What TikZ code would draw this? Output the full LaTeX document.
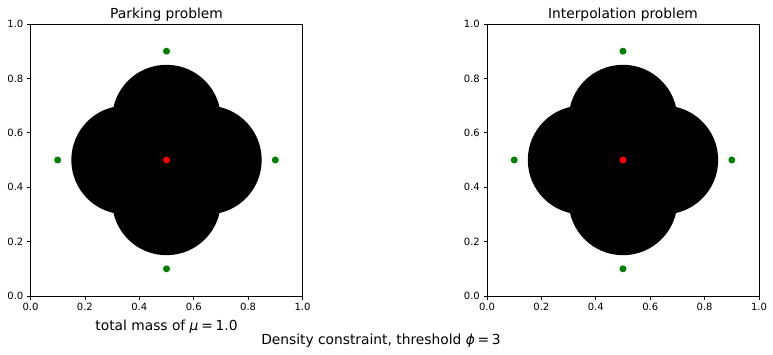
\documentclass[tikz,border=0pt]{standalone}
\usepackage{fontspec}
\setmainfont{DejaVu Sans}
\definecolor{mplgreen}{HTML}{008000}
\definecolor{mplred}{HTML}{FF0000}
\tikzset{
  spine/.style={line width=0.8pt, draw=black},
  tickline/.style={line width=0.8pt, draw=black},
  ticklab/.style={inner sep=0pt, font=\fontsize{10}{11}\selectfont},
  titlelab/.style={inner sep=0pt, anchor=base, font=\fontsize{13.8}{16}\selectfont},
  blob/.style={fill=black},
  greendot/.style={fill=mplgreen},
  reddot/.style={fill=mplred}
}
\newcommand\mypanel[3]{%
  \begin{scope}[shift={(#1pt,-296pt)}, x=272pt, y=272pt]
    \fill[blob] (0.5,0.65) circle[radius=0.2];
    \fill[blob] (0.5,0.35) circle[radius=0.2];
    \fill[blob] (0.35,0.5) circle[radius=0.2];
    \fill[blob] (0.65,0.5) circle[radius=0.2];
    \fill[greendot] (0.5,0.9) circle[radius=3.5pt];
    \fill[greendot] (0.1,0.5) circle[radius=3.5pt];
    \fill[greendot] (0.9,0.5) circle[radius=3.5pt];
    \fill[greendot] (0.5,0.1) circle[radius=3.5pt];
    \fill[reddot] (0.5,0.5) circle[radius=3.5pt];
    \draw[spine] (0,0) rectangle (1,1);
    \foreach \v/\l in {0/0.0,0.2/0.2,0.4/0.4,0.6/0.6,0.8/0.8,1/1.0}{
      \draw[tickline] (\v,0) -- ++(0,-3.5pt);
      \node[ticklab, anchor=north] at ([yshift=-7pt]\v,0) {\l};
      \draw[tickline] (0,\v) -- ++(-3.5pt,0);
      \node[ticklab, anchor=east] at ([xshift=-7pt]0,\v) {\l};
    }
    \node[titlelab] (#3) at ([yshift=5.5pt]0.5,1) {#2};
  \end{scope}%
}
\begin{document}
\begin{tikzpicture}[x=1pt,y=-1pt]
\useasboundingbox (0,0) rectangle (773,355);
\fill[white] (0,0) rectangle (773,355);
\mypanel{30.5}{Parking problem}{tleft}
\mypanel{487}{Interpolation problem}{tright}
\node[titlelab] (xlab) at (166.5,330) {total mass of {\itshape μ}\hspace{0.2em}=\hspace{0.2em}1.0};
\node[titlelab] (sup) at (381,344) {Density constraint, threshold {\itshape ϕ}\hspace{0.2em}=\hspace{0.2em}3};
\end{tikzpicture}
\end{document}
